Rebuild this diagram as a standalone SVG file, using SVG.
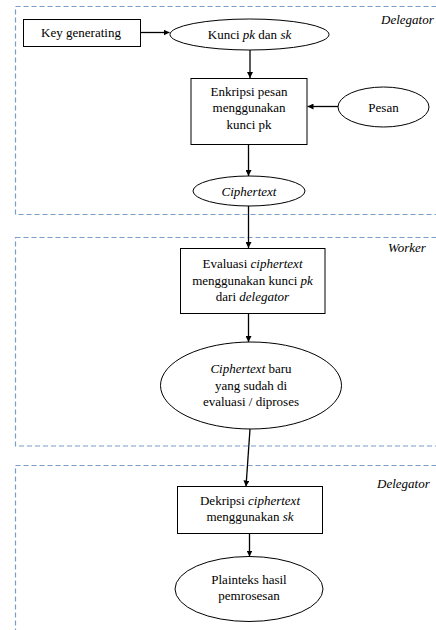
<svg xmlns="http://www.w3.org/2000/svg" width="436" height="630" viewBox="0 0 436 630">
<defs>
<marker id="ah" viewBox="0 0 10 10" refX="10" refY="5" markerWidth="6" markerHeight="6" markerUnits="userSpaceOnUse" orient="auto">
<path d="M0,0 L10,5 L0,10 z" fill="#000"/>
</marker>
<style>
.lane{fill:none;stroke:#7a9cc6;stroke-width:1.2;stroke-dasharray:5 3}
.shape{fill:#fff;stroke:#000;stroke-width:1}
text{font-family:'Liberation Serif','DejaVu Serif',serif;font-size:13px;fill:#000}
.t{text-anchor:middle}
.lbl{font-style:italic}
.i{font-style:italic}
.c{fill:none;stroke:#000;stroke-width:1.3;marker-end:url(#ah)}
</style>
</defs>
<rect width="436" height="630" fill="#fff"/>
<g id="lanes">
<rect class="lane" x="15.5" y="6.5" width="440" height="208"/>
<rect class="lane" x="15.5" y="237.5" width="440" height="208.5"/>
<rect class="lane" x="15.5" y="465.5" width="440" height="200"/>
<text class="lbl" x="381" y="24" font-family="Liberation Serif, serif">Delegator</text>
<text class="lbl" x="388" y="252" font-family="Liberation Serif, serif">Worker</text>
<text class="lbl" x="377" y="488" font-family="Liberation Serif, serif">Delegator</text>
</g>
<g id="connectors">
<line class="c" x1="140" y1="32.5" x2="169.5" y2="32.5"/>
<line class="c" x1="250" y1="50" x2="250" y2="78"/>
<line class="c" x1="338" y1="106.5" x2="307.5" y2="106.5"/>
<line class="c" x1="248.5" y1="144" x2="248.5" y2="176"/>
<line class="c" x1="248.5" y1="206" x2="248.5" y2="248"/>
<line class="c" x1="248.5" y1="313.5" x2="248.5" y2="342"/>
<line class="c" x1="250" y1="429" x2="246" y2="486.5"/>
<line class="c" x1="249.5" y1="533.5" x2="249.5" y2="556.5"/>
</g>
<g id="keygen">
<rect class="shape" x="23.5" y="19.5" width="117" height="27"/>
<text class="t" x="81" y="37">Key generating</text>
</g>
<g id="kunci">
<ellipse class="shape" cx="249.5" cy="34.5" rx="79.5" ry="15.5"/>
<text class="t" x="249.5" y="39">Kunci <tspan class="i">pk</tspan> dan <tspan class="i">sk</tspan></text>
</g>
<g id="enkripsi">
<rect class="shape" x="191" y="78.5" width="116" height="66"/>
<text class="t" x="249" y="95.5">Enkripsi pesan</text>
<text class="t" x="249" y="112">menggunakan</text>
<text class="t" x="249" y="128.5">kunci pk</text>
</g>
<g id="pesan">
<ellipse class="shape" cx="383.5" cy="107" rx="45.5" ry="20"/>
<text class="t" x="383.5" y="111.5">Pesan</text>
</g>
<g id="ciphertext">
<ellipse class="shape" cx="249" cy="191" rx="56" ry="15"/>
<text class="t i" x="249" y="195.5">Ciphertext</text>
</g>
<g id="evaluasi">
<rect class="shape" x="180.5" y="248.5" width="144.5" height="65"/>
<text class="t" x="252.5" y="267.5">Evaluasi <tspan class="i">ciphertext</tspan></text>
<text class="t" x="252.5" y="284.5">menggunakan kunci <tspan class="i">pk</tspan></text>
<text class="t" x="252.5" y="300.5">dari <tspan class="i">delegator</tspan></text>
</g>
<g id="cipherbaru">
<ellipse class="shape" cx="251" cy="385.5" rx="90.5" ry="43.5"/>
<text class="t" x="251" y="372.5"><tspan class="i">Ciphertext</tspan>  baru</text>
<text class="t" x="251" y="389.5">yang sudah di</text>
<text class="t" x="251" y="406">evaluasi / diproses</text>
</g>
<g id="dekripsi">
<rect class="shape" x="177.5" y="486.5" width="145" height="47"/>
<text class="t" x="250" y="504.5">Dekripsi <tspan class="i">ciphertext</tspan></text>
<text class="t" x="250" y="521">menggunakan <tspan class="i">sk</tspan></text>
</g>
<g id="plainteks">
<ellipse class="shape" cx="249" cy="589" rx="74" ry="32.5"/>
<text class="t" x="249" y="583.5">Plainteks hasil</text>
<text class="t" x="249" y="599.5">pemrosesan</text>
</g>
</svg>
